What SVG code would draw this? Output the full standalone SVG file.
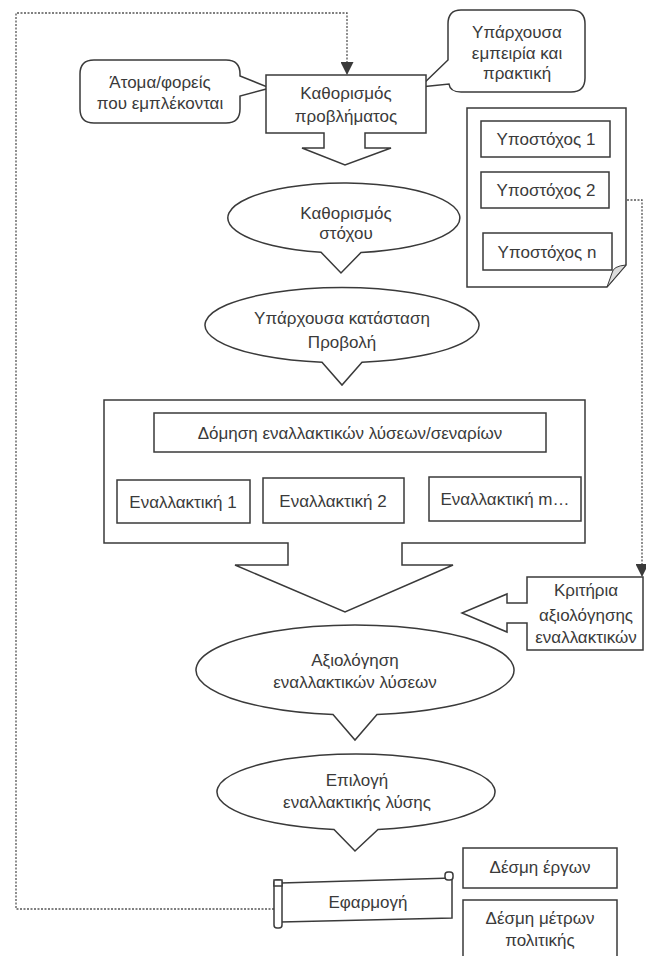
<svg xmlns="http://www.w3.org/2000/svg" width="646" height="956" viewBox="0 0 646 956">
<defs>
<style>
.s{fill:#fff;stroke:#3a3a3a;stroke-width:1.5}
.t{font-family:"Liberation Sans",Arial,sans-serif;font-size:17px;fill:#3a3a3a;text-anchor:middle}
.d{fill:none;stroke:#555;stroke-width:1.3;stroke-dasharray:2 1.5}
.l{fill:none;stroke:#3a3a3a;stroke-width:1.5}
</style>
<marker id="ah" viewBox="0 0 10 10" refX="10" refY="5" markerWidth="13" markerHeight="13" markerUnits="userSpaceOnUse" orient="auto">
<path d="M0,0 L10,5 L0,10 Z" fill="#3a3a3a"/>
</marker>
</defs>
<rect width="646" height="956" fill="#fff"/>

<g id="connectors">
<path class="d" d="M274,909 H16 V13 H347 V75" marker-end="url(#ah)"/>
<path class="d" d="M627,200 H642 V577" marker-end="url(#ah)"/>
<line class="l" x1="192" y1="452" x2="192" y2="479" marker-end="url(#ah)"/>
<line class="l" x1="335" y1="452" x2="335" y2="478" marker-end="url(#ah)"/>
<line class="l" x1="505" y1="452" x2="505" y2="477" marker-end="url(#ah)"/>
</g>

<g id="atoma">
<path class="s" d="M94,60 H226 Q240,60 240,74 V76 L270,88 L240,96 V109 Q240,123 226,123 H94 Q80,123 80,109 V74 Q80,60 94,60 Z"/>
<text class="t" x="160" y="88">Άτομα/φορείς</text>
<text class="t" x="160" y="109">που εμπλέκονται</text>
</g>

<g id="empeiria">
<path class="s" d="M461,10 H571 Q585,10 585,24 V78 Q585,92 571,92 H461 Q450,92 449,84 L420,87 L448,60 V24 Q448,10 461,10 Z"/>
<text class="t" x="517" y="38">Υπάρχουσα</text>
<text class="t" x="517" y="59">εμπειρία και</text>
<text class="t" x="517" y="79">πρακτική</text>
</g>

<g id="provlima">
<path class="s" d="M266,75 H426 V133 H365 V148 H391 L345,165 L302,148 H324 V133 H266 Z"/>
<text class="t" x="346" y="99">Καθορισμός</text>
<text class="t" x="346" y="122">προβλήματος</text>
</g>

<g id="ypostoxoi">
<path class="s" d="M467,108 H626 V265 L607,287 H467 Z"/>
<path d="M626,265 Q613,266 612,273 L607,287 Z" fill="#dcdcdc" stroke="#3a3a3a" stroke-width="1"/>
<rect class="s" x="481" y="121" width="129" height="36"/>
<text class="t" x="546" y="145">Υποστόχος 1</text>
<rect class="s" x="481" y="172" width="128" height="36"/>
<text class="t" x="546" y="196">Υποστόχος 2</text>
<rect class="s" x="483" y="233" width="129" height="37"/>
<text class="t" x="547" y="258">Υποστόχος n</text>
</g>

<g id="stoxos">
<path class="s" d="M321,252.2 A116,35 0 1 1 361,252.5 L341,273 Z"/>
<text class="t" x="346" y="219">Καθορισμός</text>
<text class="t" x="346" y="239">στόχου</text>
</g>

<g id="katastasi">
<path class="s" d="M322,362.2 A137,37.5 0 1 1 362,362.2 L342,385 Z"/>
<text class="t" x="342" y="324">Υπάρχουσα κατάσταση</text>
<text class="t" x="342" y="348">Προβολή</text>
</g>

<g id="domisi">
<path class="s" d="M104,400 H585 V543 H402 V565 H453 L345,612 L235,565 H288 V543 H104 Z"/>
<rect class="s" x="154" y="413" width="392" height="39"/>
<text class="t" x="350" y="439">Δόμηση εναλλακτικών λύσεων/σεναρίων</text>
</g>

<g id="enallaktiki1">
<rect class="s" x="117" y="480" width="133" height="43"/>
<text class="t" x="183" y="508">Εναλλακτική 1</text>
</g>
<g id="enallaktiki2">
<rect class="s" x="263" y="478" width="141" height="45"/>
<text class="t" x="333" y="507">Εναλλακτική 2</text>
</g>
<g id="enallaktikim">
<rect class="s" x="429" y="477" width="152" height="44"/>
<text class="t" x="505" y="505">Εναλλακτική m…</text>
</g>

<g id="kritiria">
<path class="s" d="M527,577 H643 V650 H527 V623 H507 V632 L462,613 L507,594 V603 H527 Z"/>
<text class="t" x="586" y="596">Κριτήρια</text>
<text class="t" x="586" y="621">αξιολόγησης</text>
<text class="t" x="586" y="643">εναλλακτικών</text>
</g>

<g id="axiologisi">
<path class="s" d="M333,714.6 A159,45 0 1 1 377,714.6 L355,740 Z"/>
<text class="t" x="355" y="666">Αξιολόγηση</text>
<text class="t" x="355" y="688">εναλλακτικών λύσεων</text>
</g>

<g id="epilogi">
<path class="s" d="M334,829.4 A139,38 0 1 1 378,829.4 L355,851 Z"/>
<text class="t" x="357" y="786">Επιλογή</text>
<text class="t" x="357" y="808">εναλλακτικής λύσης</text>
</g>

<g id="efarmogi">
<path class="s" d="M281,883 L452,878 V918 L281,922 Z"/>
<rect class="s" x="445" y="872" width="8" height="8" rx="3"/>
<rect class="s" x="274" y="880" width="8" height="48" rx="3"/>
<rect class="s" x="274" y="880" width="8" height="6"/>
<text class="t" x="368" y="908">Εφαρμογή</text>
</g>

<g id="desmi-ergon">
<rect class="s" x="463" y="848" width="154" height="40"/>
<text class="t" x="540" y="873">Δέσμη έργων</text>
</g>
<g id="desmi-metron">
<rect class="s" x="463" y="900" width="154" height="60"/>
<text class="t" x="540" y="924">Δέσμη μέτρων</text>
<text class="t" x="540" y="946">πολιτικής</text>
</g>
</svg>
